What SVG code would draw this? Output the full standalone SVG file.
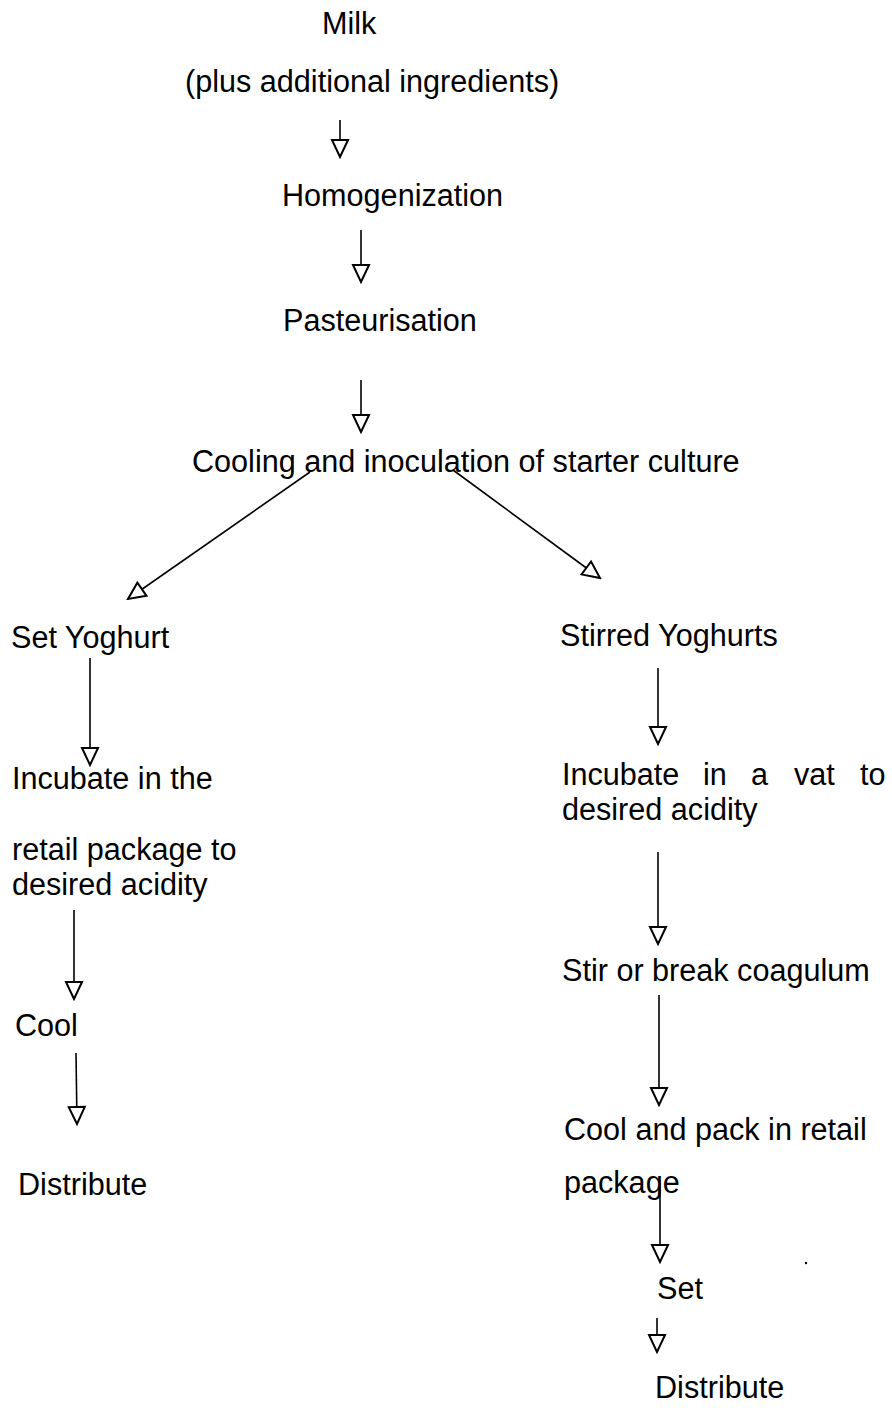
<svg xmlns="http://www.w3.org/2000/svg" width="892" height="1411" viewBox="0 0 892 1411">
<style>
text{font-family:"Liberation Sans",Arial,sans-serif;font-size:30.6px;fill:#000}
.c{stroke:#000;stroke-width:1.6;fill:none;marker-end:url(#tri)}
</style>
<defs>
<marker id="tri" viewBox="-2 -10 21 20" refX="17" refY="0" markerWidth="21" markerHeight="20" markerUnits="userSpaceOnUse" orient="auto">
<path d="M0,-8 L17,0 L0,8 Z" fill="#fff" stroke="#000" stroke-width="2"/>
</marker>
</defs>
<rect width="892" height="1411" fill="#fff"/>
<g id="n-milk"><text x="322" y="34">Milk</text><text x="185" y="92">(plus additional ingredients)</text></g>
<g id="n-homog"><text x="282" y="206">Homogenization</text></g>
<g id="n-past"><text x="283" y="331">Pasteurisation</text></g>
<g id="n-cool"><text x="192" y="472">Cooling and inoculation of starter culture</text></g>
<g id="n-set"><text x="11" y="648">Set Yoghurt</text></g>
<g id="n-incl"><text x="12" y="789">Incubate in the</text><text x="12" y="860">retail package to</text><text x="12" y="895">desired acidity</text></g>
<g id="n-cooll"><text x="15" y="1036">Cool</text></g>
<g id="n-distl"><text x="18" y="1195">Distribute</text></g>
<g id="n-stirred"><text x="560" y="646">Stirred Yoghurts</text></g>
<g id="n-incr"><text y="785"><tspan x="562">Incubate</tspan><tspan x="703">in</tspan><tspan x="751">a</tspan><tspan x="794">vat</tspan><tspan x="860">to</tspan></text><text x="562" y="820">desired acidity</text></g>
<g id="n-stir"><text x="562" y="981">Stir or break coagulum</text></g>
<g id="n-pack"><text x="564" y="1140">Cool and pack in retail</text><text x="564" y="1193">package</text></g>
<g id="n-setr"><text x="657" y="1299">Set</text></g>
<g id="n-distr"><text x="655" y="1398">Distribute</text></g>
<g id="connectors">
<line class="c" x1="340" y1="120" x2="340" y2="157"/>
<line class="c" x1="361" y1="230" x2="361" y2="282"/>
<line class="c" x1="361" y1="380" x2="361" y2="432"/>
<line class="c" x1="310" y1="472" x2="128" y2="599"/>
<line class="c" x1="453" y1="470" x2="600" y2="578"/>
<line class="c" x1="90" y1="658" x2="90" y2="765"/>
<line class="c" x1="74" y1="910" x2="74" y2="999"/>
<line class="c" x1="76" y1="1053" x2="77" y2="1124"/>
<line class="c" x1="658" y1="668" x2="658" y2="744"/>
<line class="c" x1="658" y1="852" x2="658" y2="944"/>
<line class="c" x1="659" y1="995" x2="659" y2="1105"/>
<line class="c" x1="660" y1="1180" x2="660" y2="1262"/>
<line class="c" x1="657" y1="1318" x2="657" y2="1352"/>
</g>
<circle cx="806" cy="1263" r="1.2" fill="#000"/>
</svg>
